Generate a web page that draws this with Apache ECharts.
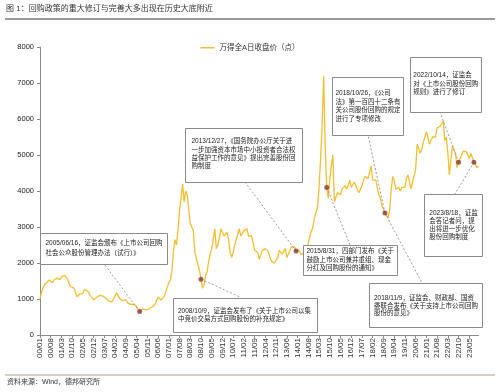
<!DOCTYPE html>
<html>
<head>
<meta charset="utf-8">
<script src="https://cdn.jsdelivr.net/npm/echarts@6/dist/echarts.min.js"></script>
<style>html,body{margin:0;padding:0;background:#fff;}#c{width:500px;height:392px;}</style>
</head>
<body>
<div id="c"></div>
<script>
// Monthly close of Wind All A, 2000/01 .. 2023/11
const closeValues = [
  1010,1180,1320,1400,1440,1470,1530,1500,1450,1520,1560,1580,
  1600,1540,1610,1640,1660,1670,1550,1420,1340,1290,1310,1220,
  1060,1100,1140,1180,1150,1270,1250,1220,1160,1080,1040,980,
  1030,1050,1080,1100,1130,1080,1050,1020,980,940,960,920,
  1000,1090,1170,1120,1010,960,950,920,980,900,920,850,
  820,860,830,790,720,650,680,720,730,700,690,720,
  760,780,800,850,960,1050,1010,970,1020,1080,1180,1330,
  1450,1520,1750,2300,2650,2500,2900,3450,3800,4200,3700,4000,
  3900,3500,3100,3000,2900,2300,2300,1950,1800,1550,1300,1400,
  1650,1750,2050,2250,2400,2650,2950,2400,2500,2700,2950,2900,
  2750,2800,2850,2650,2300,2150,2300,2500,2550,2800,2950,2750,
  2800,2900,2950,2950,2750,2700,2750,2550,2350,2400,2300,2100,
  2150,2350,2300,2400,2400,2300,2150,2050,2050,2000,1950,2150,
  2350,2400,2250,2250,2400,2150,2200,2350,2450,2400,2450,2330,
  2300,2350,2250,2250,2250,2300,2400,2550,2750,2800,3000,3250,
  3400,3550,4100,4900,5800,7200,5300,4100,3800,4300,4700,5000,
  3700,3750,3950,3950,3900,4050,4100,4150,4050,4150,4300,4100,
  4150,4250,4200,4050,3950,4050,4150,4300,4400,4450,4350,4400,
  4700,4300,4350,4300,4250,3900,3800,3600,3650,3390,3400,3250,
  3450,4000,4400,4300,4050,4050,4100,4000,4100,4150,4100,4350,
  4450,4400,4050,4250,4300,4600,5300,5250,5050,5150,5350,5500,
  5650,5500,5300,5400,5500,5550,5500,5750,5700,5800,5850,5950,
  5400,5500,5050,4450,4850,5250,5150,5050,4650,4800,4750,5000,
  5100,5150,5100,5100,4900,5050,5100,4800,4750,4650,4700
];
// Month categories "YY/MM"
const categories = [];
for (let y = 0; y <= 23; y++) {
  for (let m = 1; m <= 12; m++) {
    if (categories.length >= closeValues.length) break;
    categories.push(String(y).padStart(2,'0') + '/' + String(m).padStart(2,'0'));
  }
}
const yTicks = [0,1000,2000,3000,4000,5000,6000,7000,8000];
const eventDates  = ['05/06','08/10','13/12','15/08','18/10','22/10','23/08'];
const eventValues = [650,1550,2330,4100,3390,4800,4800];

const seriesName = '万得全A日收盘价（点）';
const titleText = '图 1：回购政策的重大修订与完善大多出现在历史大底附近';
const sourceText = '资料来源：Wind，德邦研究所';

// annotation boxes: [x, y, w, h, textX, firstLineCenterY, lineHeight, lines]
const notes = [
  [40,233,127,31,45.5,243.5,9.8,['2005/06/16，证监会颁布《上市公司回购','社会公众股份管理办法（试行）》']],
  [173,298,144,34,178,311.7,7.7,['2008/10/9，证监会发布了《关于上市公司以集','中竞价交易方式回购股份的补充规定》']],
  [185,128,117,54,191.5,141.7,8.3,['2013/12/27，《国务院办公厅关于进','一步加强资本市场中小投资者合法权','益保护工作的意见》提出完善股份回','购制度']],
  [303,245,94,30,306.5,251.7,8.3,['2015/8/31，四部门发布《关于','鼓励上市公司兼并重组、现金','分红及回购股份的通知》']],
  [332,77,71,58,335.5,93.3,8.5,['2018/10/26，《公司','法》第一百四十二条有','关公司股份回购的规定','进行了专项修改']],
  [410,57,71,55,413.3,75.7,8.3,['2022/10/14，证监会','对《上市公司股份回购','规则》进行了修订']],
  [424,194,58,62,429.3,213.3,8,['2023/8/18，证监','会答记者问，提','出将进一步优化','股份回购制度']],
  [369,283,113,44,374,298.3,7.5,['2018/11/9，证监会、财政部、国资','委联合发布《关于支持上市公司回购','股份的意见》']]
];
// connectors: [event index, box-end x, box-end y]
const connectors = [[0,105,265],[1,240,297],[2,245,182],[3,350,245],[4,368,135],[4,422,283],[5,440,112],[6,455,194]];

const FONT = '"Liberation Sans","Noto Sans CJK SC",sans-serif';
const graphics = [
  {type:'text', left:6, top:5, z:100, style:{text:titleText, font:'8px '+FONT, fill:'#333'}},
  {type:'line', z:100, shape:{x1:5,y1:19,x2:495,y2:19}, style:{stroke:'#9a9a9a', lineWidth:2}},
  {type:'line', z:100, shape:{x1:5,y1:375,x2:495,y2:375}, style:{stroke:'#c8c0b0', lineWidth:1.5}},
  {type:'text', left:7, top:379, z:100, style:{text:sourceText, font:'7px '+FONT, fill:'#333'}}
];
notes.forEach(n => {
  const [x,y,w,h,tx,ty,lh,lines] = n;
  graphics.push({type:'rect', z:100, shape:{x:x+0.5,y:y+0.5,width:w,height:h}, style:{fill:'#fff', stroke:'#8a8a8a', lineWidth:1}});
  lines.forEach((t,i) => {
    graphics.push({type:'text', z:101, x:tx, y:ty+i*lh, style:{text:t, font:'6.5px '+FONT, fill:'#222', verticalAlign:'middle', align:'left'}});
  });
});

const chart = echarts.init(document.getElementById('c'), null, {renderer:'canvas'});
chart.setOption({
  animation:false,
  backgroundColor:'#fff',
  legend:{data:[seriesName], top:39, left:'center', icon:'rect', itemWidth:14, itemHeight:1.5, itemGap:4,
    textStyle:{fontSize:7.5, color:'#333', fontFamily:FONT}},
  grid:{left:40, right:21.5, top:47, bottom:57},
  xAxis:{type:'category', data:categories, boundaryGap:false,
    axisLine:{lineStyle:{color:'#8a8a8a'}},
    axisTick:{interval:6, length:3, lineStyle:{color:'#8a8a8a'}},
    axisLabel:{interval:6, rotate:90, fontSize:8, color:'#333', margin:3, fontFamily:FONT},
    splitLine:{show:false}},
  yAxis:{type:'value', min:yTicks[0], max:yTicks[yTicks.length-1], interval:1000,
    axisLine:{show:true, lineStyle:{color:'#8a8a8a'}},
    axisTick:{show:true, length:3, lineStyle:{color:'#8a8a8a'}},
    axisLabel:{fontSize:7.5, color:'#222', margin:6, fontFamily:FONT, formatter: v => String(v)},
    splitLine:{show:false}},
  series:[
    {name:seriesName, type:'line', data:closeValues, showSymbol:false, symbol:'none',
      lineStyle:{color:'#F3BE2F', width:1.3}, itemStyle:{color:'#F3BE2F'}, z:2},
    {name:'events', type:'scatter', data:eventDates.map((d,i)=>[d,eventValues[i]]), symbolSize:5,
      itemStyle:{color:'#8A3B32'}, z:5,
      markLine:{silent:true, symbol:['none','none'], label:{show:false},
        lineStyle:{type:[2,2], color:'#9a9a9a', width:1},
        data: connectors.map(c => [{coord:[eventDates[c[0]], eventValues[c[0]]]}, {x:c[1], y:c[2]}])}}
  ],
  graphic: graphics
});
</script>
</body>
</html>
